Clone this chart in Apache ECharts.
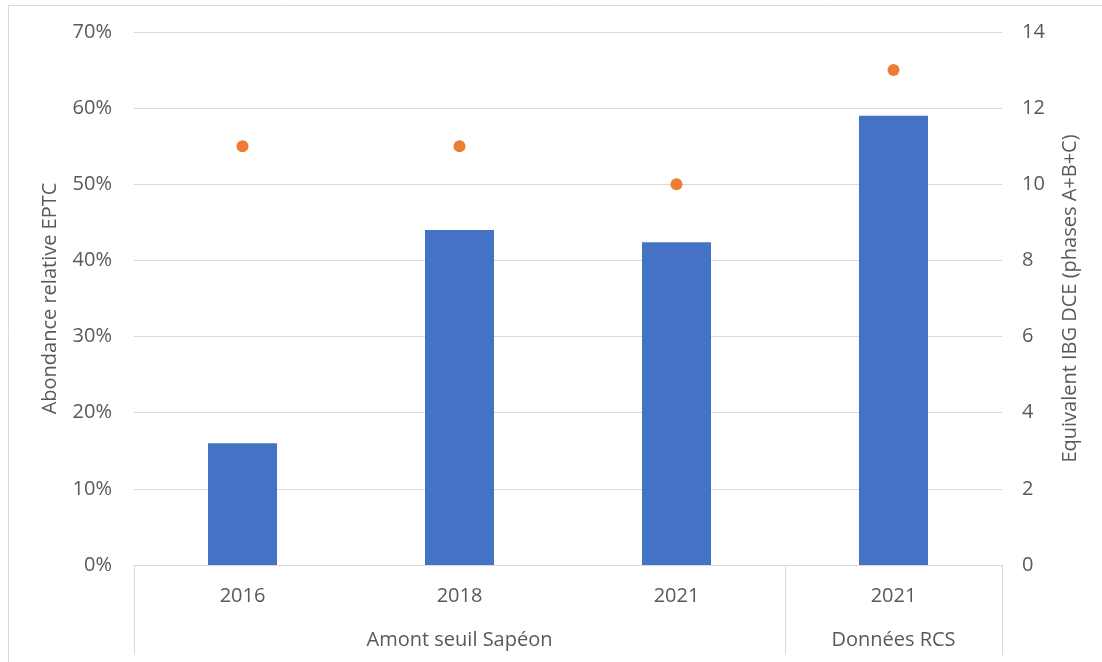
<!DOCTYPE html>
<html><head><meta charset="utf-8">
<script src="https://cdn.jsdelivr.net/npm/echarts@6/dist/echarts.min.js"></script>
<style>html,body{margin:0;padding:0;background:#fff}#c{width:1102px;height:662px}</style>
</head><body><div id="c"></div>
<script>
const years = ['2016', '2018', '2021', '2021'];
const groups = ['Amont seuil Sapéon', 'Données RCS'];
const groupCenters = [1.5, 3.5];
const groupBounds = [0, 3, 4];
const abondance = [0.16, 0.44, 0.424, 0.59];
const ibg = [11, 11, 10, 13];
const leftName = 'Abondance relative EPTC';
const rightName = 'Equivalent IBG DCE (phases A+B+C)';

const FONT = '"Open Sans", sans-serif';
const TXT = '#595959';
const chart = echarts.init(document.getElementById('c'), null, {renderer: 'canvas'});
chart.setOption({
  animation: false,
  backgroundColor: '#fff',
  textStyle: {fontFamily: FONT},
  graphic: [{type: 'rect', shape: {x: 8.5, y: 5.5, width: 1200, height: 700},
    style: {fill: 'none', stroke: '#d9d9d9', lineWidth: 1}, silent: true}],
  grid: {left: 134, right: 100, top: 32, bottom: 97},
  xAxis: [{
    type: 'category', data: years, position: 'bottom',
    axisLine: {show: true, lineStyle: {color: '#d9d9d9'}},
    axisTick: {show: false},
    axisLabel: {color: TXT, fontSize: 20, fontFamily: FONT, margin: 21}
  }, {
    type: 'value', min: 0, max: 4, position: 'bottom',
    splitLine: {show: false},
    axisLine: {show: false},
    axisTick: {show: true, customValues: groupBounds, length: 90, lineStyle: {color: '#d9d9d9'}},
    axisLabel: {show: true, customValues: groupCenters, color: TXT, fontSize: 20, fontFamily: FONT, margin: 65,
      formatter: v => groups[groupCenters.indexOf(v)]}
  }],
  yAxis: [{
    type: 'value', min: 0, max: 0.7, interval: 0.1,
    name: leftName, nameLocation: 'middle', nameGap: 74,
    nameTextStyle: {color: TXT, fontSize: 20, fontFamily: FONT},
    axisLine: {show: false}, axisTick: {show: false},
    axisLabel: {color: TXT, fontSize: 20, fontFamily: FONT, margin: 22,
      formatter: v => Math.round(v * 100) + '%'},
    splitLine: {lineStyle: {color: '#d9d9d9', width: 1}}
  }, {
    type: 'value', min: 0, max: 14, interval: 2,
    name: rightName, nameLocation: 'middle', nameGap: 58,
    nameTextStyle: {color: TXT, fontSize: 20, fontFamily: FONT},
    axisLine: {show: false}, axisTick: {show: false},
    axisLabel: {color: TXT, fontSize: 20, fontFamily: FONT, margin: 20},
    splitLine: {show: false}
  }],
  series: [{
    type: 'bar', data: abondance, xAxisIndex: 0, yAxisIndex: 0,
    barWidth: 69, itemStyle: {color: '#4472c4'}
  }, {
    type: 'scatter', data: ibg, xAxisIndex: 0, yAxisIndex: 1,
    symbolSize: 12, itemStyle: {color: '#ed7d31', opacity: 1}
  }]
});
</script></body></html>
